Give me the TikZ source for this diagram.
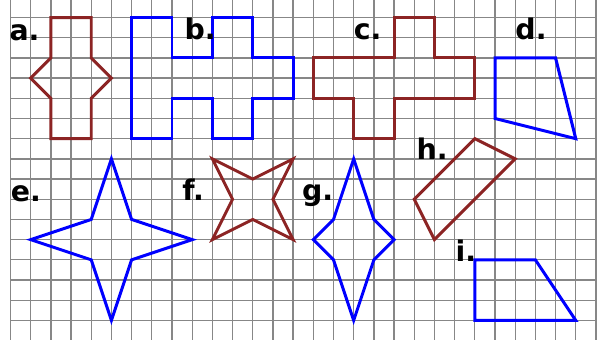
\documentclass[tikz,border=0pt]{standalone}
\usepackage{fontspec}
\setmainfont{DejaVu Sans}
\definecolor{shapered}{RGB}{140,36,36}
\definecolor{gridgray}{RGB}{135,135,135}
\begin{document}
\begin{tikzpicture}[x=0.5cm,y=0.5cm,
  every node/.style={font=\fontsize{20}{20}\selectfont\bfseries,anchor=base west,inner sep=0pt},
  redline/.style={draw=shapered,line width=2.1pt},
  blueline/.style={draw=blue,line width=2.1pt}]
\useasboundingbox (-0.52,0.03) rectangle (29.25,16.87);
\clip (-0.52,0.03) rectangle (29.25,16.87);
\draw[gridgray,line width=0.9pt,step=0.5cm] (0,-1) grid (29,18);
% top row
\draw[redline] (2,16)--(4,16)--(4,14)--(5,13)--(4,12)--(4,10)--(2,10)--(2,12)--(1,13)--(2,14)--cycle;
\draw[blueline] (6,16)--(8,16)--(8,14)--(10,14)--(10,16)--(12,16)--(12,14)--(14,14)--(14,12)--(12,12)--(12,10)--(10,10)--(10,12)--(8,12)--(8,10)--(6,10)--cycle;
\draw[redline] (19,16)--(21,16)--(21,14)--(23,14)--(23,12)--(19,12)--(19,10)--(17,10)--(17,12)--(15,12)--(15,14)--(19,14)--cycle;
\draw[blueline] (24,14)--(27,14)--(28,10)--(24,11)--cycle;
% lower row
\draw[blueline] (5,9)--(6,6)--(9,5)--(6,4)--(5,1)--(4,4)--(1,5)--(4,6)--cycle;
\draw[redline] (10,9)--(12,8)--(14,9)--(13,7)--(14,5)--(12,6)--(10,5)--(11,7)--cycle;
\draw[blueline] (17,9)--(18,6)--(19,5)--(18,4)--(17,1)--(16,4)--(15,5)--(16,6)--cycle;
\draw[redline] (23,10)--(25,9)--(21,5)--(20,7)--cycle;
\draw[blueline] (23,4)--(26,4)--(28,1)--(23,1)--cycle;
% labels
\node (la) at (-0.06,14.84) {a.};
\node (lb) at (8.61,14.89) {b.};
\node (lc) at (16.99,14.9) {c.};
\node (ld) at (25.0,14.9) {d.};
\node (le) at (0.0,6.88) {e.};
\node (lf) at (8.5,6.95) {f.};
\node (lg) at (14.43,6.95) {g.};
\node (lh) at (20.1,8.96) {h.};
\node (li) at (22.03,3.9) {i.};
\end{tikzpicture}
\end{document}
